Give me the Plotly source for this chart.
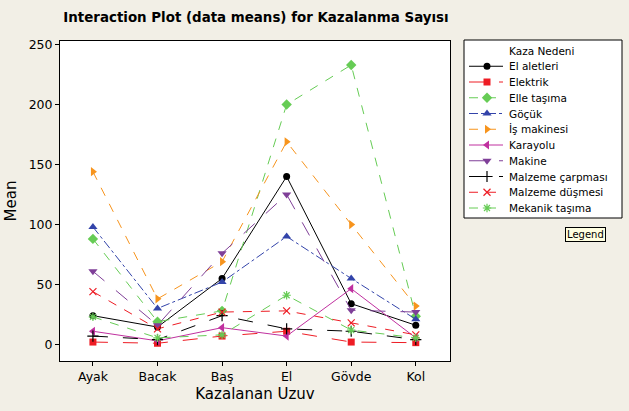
import plotly.graph_objects as go

categories = ["Ayak", "Bacak", "Baş", "El", "Gövde", "Kol"]

series_names = ["El aletleri", "Elektrik", "Elle taşıma", "Göçük", "İş makinesi",
                "Karayolu", "Makine", "Malzeme çarpması", "Malzeme düşmesi", "Mekanik taşıma"]

el_aletleri = [24, 14.5, 55, 140, 34, 16]
elektrik = [2, 1, 7, 11, 2, 1.5]
elle_tasima = [88, 19, 28, 200, 233, 23.5]
gocuk = [98, 30, 52, 90, 55, 21]
is_makinesi = [144, 38, 69, 169, 100, 32]
karayolu = [11, 3, 14, 7, 46.5, 5.5]
makine = [61, 16, 76, 125, 28.5, 27]
malzeme_carpmasi = [7, 4, 24, 13, 11, 4]
malzeme_dusmesi = [44, 13, 27, 28, 18, 8]
mekanik_tasima = [23, 5.5, 8, 41, 12, 5.5]

values = [el_aletleri, elektrik, elle_tasima, gocuk, is_makinesi,
          karayolu, makine, malzeme_carpmasi, malzeme_dusmesi, mekanik_tasima]

colors = ["#000000", "#ee1c24", "#66cc55", "#3344aa", "#f7941d",
          "#c0309f", "#7f3f98", "#000000", "#ee1c24", "#66cc55"]
dashes = ["solid", "longdash", "dash", "dashdot", "dash",
          "solid", "longdash", "longdash", "dash", "dash"]
symbols = ["circle", "square", "diamond", "triangle-up", "triangle-right",
           "triangle-left", "triangle-down", "cross-thin-open", "x-thin-open", "asterisk-open"]
sizes = [7, 7, 8, 8, 8, 8, 8, 8, 7, 7]
outline = [0, 0, 0, 0, 0, 0, 0, 1.2, 1.2, 1.2]

W, H = 629, 411
ML, MR, MT, MB = 60, 7, 35, 50
PW, PH = W - ML - MR, H - MT - MB
BG = "#f2efe6"


def px_x(x):
    return (x - ML) / PW


def px_y(y):
    return (H - MB - y) / PH


font = "DejaVu Sans"

fig = go.Figure()
for name, vals, c, d, s, sz, ow in zip(series_names, values, colors, dashes, symbols, sizes, outline):
    fig.add_trace(go.Scatter(
        x=categories, y=vals, name=name, mode="lines+markers",
        line=dict(color=c, width=1, dash=d),
        marker=dict(symbol=s, size=sz, color=c, line=dict(color=c, width=ow)),
        showlegend=False, xaxis="x", yaxis="y",
    ))

# Hand-built legend panel on its own small axes (pixel units inside the box)
LEG_L, LEG_R, LEG_T, LEG_B = 464, 622, 40, 218
row0, row_step = 10.5, 15.75
for i, (name, c, d, s, sz, ow) in enumerate(zip(series_names, colors, dashes, symbols, sizes, outline)):
    ry = row0 + row_step * (i + 1)
    fig.add_trace(go.Scatter(
        x=[5, 39], y=[ry, ry], mode="lines",
        line=dict(color=c, width=1, dash=d),
        showlegend=False, hoverinfo="skip", xaxis="x2", yaxis="y2",
    ))
    fig.add_trace(go.Scatter(
        x=[23], y=[ry], mode="markers",
        marker=dict(symbol=s, size=sz, color=c, line=dict(color=c, width=ow)),
        showlegend=False, hoverinfo="skip", xaxis="x2", yaxis="y2",
    ))
    fig.add_annotation(
        text=name, xref="x2", yref="y2", x=43, y=ry,
        xanchor="left", yanchor="middle", showarrow=False,
        font=dict(family=font, size=10.5, color="#000000"),
    )
fig.add_annotation(
    text="Kaza Nedeni", xref="x2", yref="y2", x=43, y=row0,
    xanchor="left", yanchor="middle", showarrow=False,
    font=dict(family=font, size=10.5, color="#000000"),
)

fig.add_shape(
    type="rect", xref="paper", yref="paper",
    x0=px_x(LEG_L), x1=px_x(LEG_R), y0=px_y(LEG_B), y1=px_y(LEG_T),
    line=dict(color="#000000", width=1), fillcolor="#ffffff", layer="below",
)

fig.update_layout(
    width=W, height=H,
    margin=dict(l=ML, r=MR, t=MT, b=MB),
    paper_bgcolor=BG,
    plot_bgcolor="rgba(0,0,0,0)",
    font=dict(family=font, size=12, color="#000000"),
    title=dict(text="<b>Interaction Plot (data means) for Kazalanma Sayısı</b>",
               x=256 / W, xanchor="center", y=1 - 17 / H, yanchor="middle",
               font=dict(family=font, size=13.4, color="#000000")),
    showlegend=False,
    xaxis=dict(
        domain=[0, px_x(450)],
        type="category", categoryorder="array", categoryarray=categories,
        range=[-0.51, 5.53],
        showgrid=False, zeroline=False,
        showline=True, linecolor="#000000", linewidth=1, mirror=True,
        ticks="outside", ticklen=4, tickcolor="#000000",
        tickfont=dict(family=font, size=12.5),
        title=dict(text="Kazalanan Uzuv", font=dict(family=font, size=15), standoff=5),
        anchor="y",
    ),
    yaxis=dict(
        domain=[px_y(361), px_y(41)],
        range=[-13.8, 253.0],
        tickvals=[0, 50, 100, 150, 200, 250],
        showgrid=False, zeroline=False,
        showline=True, linecolor="#000000", linewidth=1, mirror=True,
        ticks="outside", ticklen=4, tickcolor="#000000",
        tickfont=dict(family=font, size=12.5),
        title=dict(text="Mean", font=dict(family=font, size=15), standoff=8),
        anchor="x",
    ),
    xaxis2=dict(
        domain=[px_x(LEG_L), px_x(LEG_R)], range=[0, LEG_R - LEG_L],
        visible=False, fixedrange=True, anchor="y2",
    ),
    yaxis2=dict(
        domain=[px_y(LEG_B), px_y(LEG_T)], range=[LEG_B - LEG_T, 0],
        visible=False, fixedrange=True, anchor="x2",
    ),
)

# white fill for main plot area
fig.add_shape(
    type="rect", xref="paper", yref="paper",
    x0=0, x1=px_x(450), y0=px_y(361), y1=px_y(41),
    line=dict(width=0), fillcolor="#ffffff", layer="below",
)

fig.add_annotation(
    text="Legend", xref="paper", yref="paper",
    x=px_x(585), y=px_y(234),
    xanchor="center", yanchor="middle", showarrow=False,
    font=dict(family=font, size=10, color="#000000"),
    bgcolor="#ffffe1", bordercolor="#000000", borderwidth=1, borderpad=1,
)

fig.write_html(
    "out.html",
    config={"displayModeBar": False},
    post_script="document.body.style.margin='0';document.body.style.background='" + BG + "';",
)
